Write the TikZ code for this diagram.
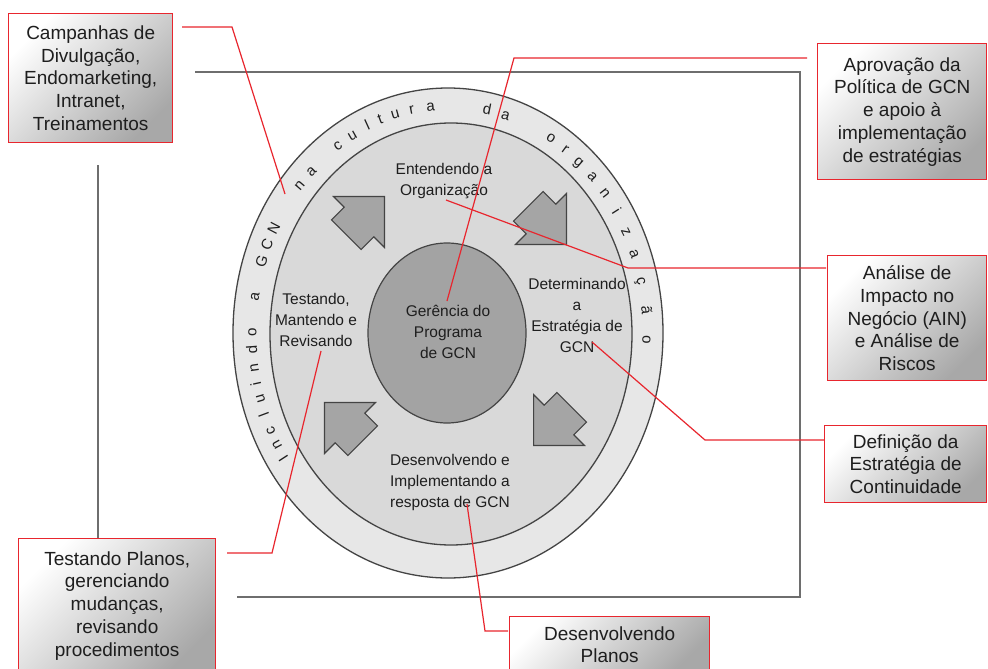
\documentclass[tikz,border=0pt]{standalone}
\usepackage{fontspec}
\setmainfont{Liberation Sans}
\definecolor{leader}{HTML}{E8262E}
\definecolor{frameline}{HTML}{6E6E6E}
\definecolor{ringfill}{HTML}{E7E7E7}
\definecolor{midfill}{HTML}{D9D9D9}
\definecolor{corefill}{HTML}{A3A3A3}
\definecolor{arrowfill}{HTML}{A5A5A5}
\definecolor{edgeline}{HTML}{444444}
\definecolor{txt}{HTML}{1E1E1E}
\tikzset{
  callout/.style={draw=leader, line width=1.4pt, top color=white, bottom color=black!34,
    shading angle=45, text=txt, align=center, inner sep=0pt,
    font=\fontsize{19}{22.8}\selectfont, anchor=north west},
  stage/.style={text=txt, align=center, inner sep=0pt, font=\fontsize{15.5}{21}\selectfont},
  ringchar/.style={text=txt, inner sep=0pt, anchor=base, font=\fontsize{15}{15}\selectfont},
  leaderline/.style={draw=leader, line width=1.2pt},
  framestroke/.style={draw=frameline, line width=2pt},
  % stubby block arrow, tip along +x, square head
  fatarrow/.pic={
    \draw[fill=arrowfill, draw=edgeline, line width=1.1pt, line join=miter]
      (-18,-21) -- (0,-21) -- (0,-36) -- (36,0) -- (0,36) -- (0,21) -- (-18,21) -- cycle;
  }
}
\begin{document}
\begin{tikzpicture}[x=1pt, y=-1pt]
\useasboundingbox (0,0) rectangle (988,669);
\fill[white] (0,0) rectangle (988,669);

% surrounding frame
\draw[framestroke] (195,72) -- (800,72) -- (800,597) -- (237,597);
\draw[framestroke] (98,165) -- (98,540);

% lifecycle rings
\draw[fill=ringfill, draw=edgeline, line width=1.3pt] (448,333) ellipse [x radius=215, y radius=245];
\draw[fill=midfill, draw=edgeline, line width=1.3pt] (451,334) ellipse [x radius=181, y radius=211];
\draw[fill=corefill, draw=edgeline, line width=1.2pt] (447,333) ellipse [x radius=79, y radius=90];

% letters set one by one around the ring, clockwise (angle in degrees, counter-clockwise from east)
\begin{scope}[shift={(449.5,334)}]
\foreach \ch/\ang [count=\k] in {I/213, n/209, c/205, l/200.5, u/196.5, i/192.5, n/188.5, d/184, o/179.5,
    a/170.5, G/161.5, C/157, N/152.5, n/139.5, a/134.5,
    c/124.5, u/119.5, l/114.5, t/110.5, u/106, r/101, a/95.5, d/79, a/73.5,
    o/59, r/54, g/49, a/43.5, n/38, i/32.5, z/26.5, a/20.5, ç/13.5, ã/6, o/-1.5}
  \node[ringchar, rotate=\ang-90] (ring\k) at (-\ang:193 and 224) {\ch};
\end{scope}

% clockwise arrows between the stages
\pic[rotate=45] at (359,222) {fatarrow};
\pic[rotate=-45] at (541,219) {fatarrow};
\pic[rotate=-135] at (559,420) {fatarrow};
\pic[rotate=135] at (350,428) {fatarrow};

% stage labels
\node[stage] (ent) at (444,181) {Entendendo a\\Organização};
\node[stage] (tes) at (316,320) {Testando,\\Mantendo e\\Revisando};
\node[stage] (ger) at (448,332) {Gerência do\\Programa\\de GCN};
\node[stage] (det) at (577,315) {Determinando\\a\\Estratégia de\\GCN};
\node[stage] (des) at (450,482) {Desenvolvendo e\\Implementando a\\resposta de GCN};

% callout boxes
\node[callout, minimum width=164pt, minimum height=129pt] (camp) at (8,13)
  {Campanhas de\\Divulgação,\\Endomarketing,\\Intranet,\\Treinamentos};
\node[callout, minimum width=169pt, minimum height=136pt] (aprov) at (817,43)
  {Aprovação da\\Política de GCN\\e apoio à\\implementação\\de estratégias};
\node[callout, minimum width=159pt, minimum height=125pt] (ain) at (827,255)
  {Análise de\\Impacto no\\Negócio (AIN)\\e Análise de\\Riscos};
\node[callout, minimum width=162pt, minimum height=77pt] (defi) at (824,425)
  {Definição da\\Estratégia de\\Continuidade};
\node[callout, minimum width=200pt, minimum height=56pt] (devp) at (509,616)
  {Desenvolvendo\\Planos};
\node[callout, minimum width=197pt, minimum height=134pt] (tplan) at (18,538)
  {Testando Planos,\\gerenciando\\mudanças,\\revisando\\procedimentos};

% leader lines
\coordinate (campA) at (182,27);  \coordinate (campB) at (232,27);  \coordinate (campC) at (285,194);
\coordinate (aprA) at (807,58);   \coordinate (aprB) at (514,58);   \coordinate (aprC) at (447,301);
\coordinate (ainA) at (826,268);  \coordinate (ainB) at (628,268);  \coordinate (ainC) at (446,200);
\coordinate (defA) at (824,440);  \coordinate (defB) at (705,440);  \coordinate (defC) at (592,342);
\coordinate (devA) at (508,631);  \coordinate (devB) at (485,631);  \coordinate (devC) at (467,504);
\coordinate (tplA) at (227,553);  \coordinate (tplB) at (272,553);  \coordinate (tplC) at (321,351);

\draw[leaderline] (campA) -- (campB) -- (campC);
\draw[leaderline] (aprA) -- (aprB) -- (aprC);
\draw[leaderline] (ainA) -- (ainB) -- (ainC);
\draw[leaderline] (defA) -- (defB) -- (defC);
\draw[leaderline] (devA) -- (devB) -- (devC);
\draw[leaderline] (tplA) -- (tplB) -- (tplC);
\end{tikzpicture}
\end{document}
